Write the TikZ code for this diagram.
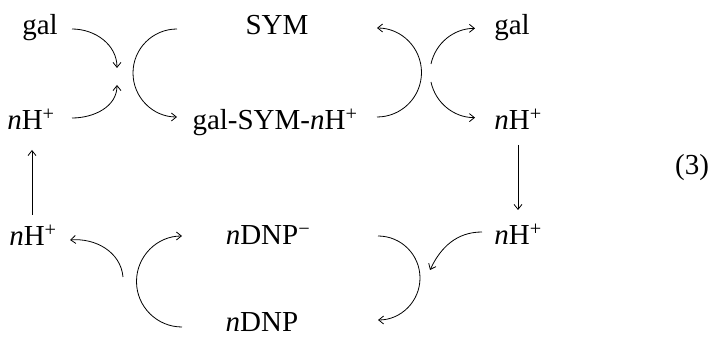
\documentclass[tikz,border=0pt]{standalone}
\usepackage{fontspec}
\setmainfont{Liberation Serif}
\usetikzlibrary{arrows.meta}
\begin{document}
\begin{tikzpicture}[x=1pt,y=1pt,
  lbl/.style={anchor=base,inner sep=0pt,font=\fontsize{29}{34}\selectfont},
  conn/.style={line width=0.8pt},
  arr/.style={conn,-{Straight Barb[length=5pt,width=8pt,line width=0.8pt]}}]
\useasboundingbox (0,0) rectangle (710,337);
% nodes
\node[lbl] (gal1) at (40,302) {gal};
\node[lbl] (sym) at (277,302) {SYM};
\node[lbl] (gal2) at (512,302) {gal};
\node[lbl] (h1) at (31,207) {\textit{n}H\textsuperscript{+}};
\node[lbl] (cplx) at (275,207) {gal-SYM-\textit{n}H\textsuperscript{+}};
\node[lbl] (h2) at (518,207) {\textit{n}H\textsuperscript{+}};
\node[lbl] (h3) at (33,91) {\textit{n}H\textsuperscript{+}};
\node[lbl] (dnpm) at (268,92) {\textit{n}DNP\textsuperscript{−}};
\node[lbl] (h4) at (518,92) {\textit{n}H\textsuperscript{+}};
\node[lbl] (dnp) at (262,5) {\textit{n}DNP};
\node[lbl] (eq) at (692,162) {(3)};
% coordinates
\coordinate (a1) at (72,308);
\coordinate (j1) at (117,269);
\coordinate (a2) at (72,219);
\coordinate (j2) at (117,252);
\coordinate (tl) at (177,308);
\coordinate (tr) at (377,220);
\coordinate (ru1) at (431,273);
\coordinate (ru2) at (431,255);
\coordinate (d1) at (518,192);
\coordinate (d2) at (518,127);
\coordinate (u1) at (32,122);
\coordinate (u2) at (32,187);
\coordinate (b1) at (482,105);
\coordinate (b2) at (430,67);
\coordinate (br) at (378,101);
\coordinate (bl) at (182,10);
\coordinate (c1) at (123,60);
\coordinate (c2) at (70,97);
% connectors
\draw[arr] (a1) to[out=0,in=90] (j1);
\draw[arr] (a2) to[out=0,in=-90] (j2);
\draw[arr] (tl) arc[start angle=90,end angle=270,radius=44];
\draw[arr] (tr) arc[start angle=-90,end angle=90,radius=44.5];
\draw[arr] (ru1) arc[start angle=168,end angle=90,radius=45];
\draw[arr] (ru2) arc[start angle=192,end angle=270,radius=45];
\draw[arr] (d1) -- (d2);
\draw[arr] (u1) -- (u2);
\draw[arr] (b1) to[out=180,in=65] (b2);
\draw[arr] (br) arc[start angle=90,end angle=-90,radius=42];
\draw[arr] (bl) arc[start angle=-90,end angle=-270,radius=45.5];
\draw[arr] (c1) to[out=95,in=5] (c2);
\end{tikzpicture}
\end{document}
